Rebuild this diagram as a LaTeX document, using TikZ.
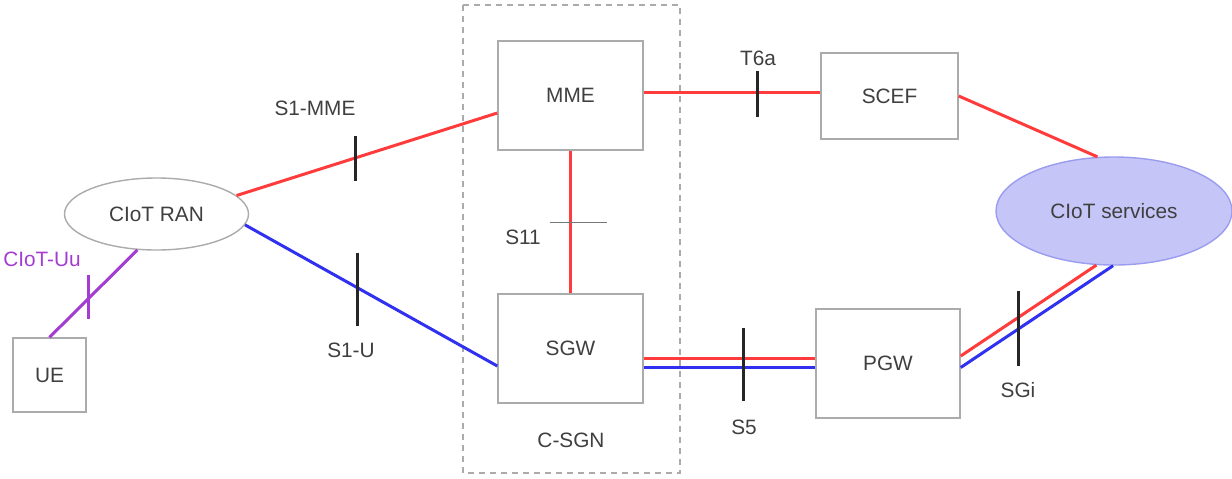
\documentclass[tikz,border=0pt]{standalone}
\usepackage{fontspec}
\setmainfont{Liberation Sans}
\usetikzlibrary{calc, shapes.geometric}
\definecolor{lnred}{HTML}{FF3B3B}
\definecolor{lnblue}{HTML}{3030F0}
\definecolor{lnpurple}{HTML}{A23CD2}
\definecolor{boxgray}{HTML}{ABABAB}
\definecolor{txtgray}{HTML}{3F3F3F}
\definecolor{svcfill}{HTML}{C5C6F7}
\definecolor{svcdraw}{HTML}{9A9CF0}

\begin{document}
\begin{tikzpicture}[x=0.5pt, y=-0.5pt,
  every node/.style={font=\fontsize{10.4}{12}\selectfont, text=txtgray},
  entity/.style={draw=boxgray, line width=0.7pt, fill=white,
                 minimum width=72.5pt, minimum height=54.5pt},
  cloud/.style={ellipse, draw=boxgray, line width=0.7pt, fill=white, inner sep=0pt},
  redln/.style={lnred, line width=1.5pt},
  blueln/.style={lnblue, line width=1.5pt},
  refpt/.style={draw=black!85, line width=1.5pt},
  lbl/.style={inner sep=1pt},
]
  \useasboundingbox (0,0) rectangle (1232,478);

  % C-SGN frame
  \draw[boxgray, line width=0.7pt, dash pattern=on 3pt off 2.5pt] (463,5) rectangle (680,473);
  \node[lbl] (csgn) at (571,440) {C-SGN};

  % network elements
  \node[entity, minimum width=36.5pt, minimum height=37pt] (ue) at (49.5,375) {UE};
  \node[cloud, minimum width=92pt, minimum height=36pt] (ran) at (156.5,214) {CIoT RAN};
  \node[entity] (mme) at (570.5,95.5) {MME};
  \node[entity] (sgw) at (570.5,348.5) {SGW};
  \node[entity, minimum width=68.5pt, minimum height=43pt] (scef) at (889.5,96) {SCEF};
  \node[entity, minimum width=72pt] (pgw) at (888,363.5) {PGW};
  \node[ellipse, draw=svcdraw, fill=svcfill, line width=0.7pt, inner sep=0pt,
        minimum width=118pt, minimum height=54pt] (svc) at (1114,211) {CIoT services};

  % interfaces
  \draw[lnpurple, line width=1.5pt] (ue.north) -- coordinate[pos=0.444] (tuu) (ran.-118);
  \draw[redln] (ran.13) -- coordinate[pos=0.455] (tmme) ($(mme.west)+(0,17.5)$);
  \draw[blueln] (ran.-7.5) -- coordinate[pos=0.444] (tu) ($(sgw.west)+(0,17.5)$);
  \draw[redln] (mme.south) -- coordinate[pos=0.5] (ts11) (sgw.north);
  \draw[redln] ($(mme.east)+(0,-3.5)$) -- coordinate[pos=0.646] (tt6a) ($(scef.west)+(0,-4)$);
  \draw[redln] (scef.east) -- (svc.107);
  \draw[redln] ($(sgw.east)+(0,9.5)$) -- coordinate[pos=0.58] (ts5) ($(pgw.west)+(0,-5.5)$);
  \draw[blueln] ($(sgw.east)+(0,18.5)$) -- ($(pgw.west)+(0,3.5)$);
  \draw[redln] ($(pgw.east)+(0,-7.5)$) -- coordinate[pos=0.423] (tsgi) (svc.-108);
  \draw[blueln] ($(pgw.east)+(0,4)$) -- (svc.-91);

  % reference points
  \draw[lnpurple, line width=1.5pt] ($(tuu)+(0,-24)$) -- ($(tuu)+(0,20)$);
  \draw[refpt] ($(tmme)+(0,-22)$) -- ($(tmme)+(0,23)$);
  \draw[refpt] ($(tu)+(0,-35)$) -- ($(tu)+(0,38)$);
  \draw[boxgray!70!black, line width=0.5pt] ($(ts11)+(-21,0)$) -- ($(ts11)+(36,0)$);
  \draw[refpt] ($(tt6a)+(0,-21)$) -- ($(tt6a)+(0,25)$);
  \draw[refpt] ($(ts5)+(0,-30)$) -- ($(ts5)+(0,43)$);
  \draw[refpt] ($(tsgi)+(0,-27)$) -- ($(tsgi)+(0,48)$);

  % labels
  \node[lbl, text=lnpurple] (luu) at (42,259) {CIoT-Uu};
  \node[lbl] (lmme) at (315,108) {S1-MME};
  \node[lbl] (lu) at (351,350) {S1-U};
  \node[lbl] (ls11) at (523,237) {S11};
  \node[lbl] (lt6a) at (758,58) {T6a};
  \node[lbl] (ls5) at (744,427) {S5};
  \node[lbl] (lsgi) at (1018,390) {SGi};
\end{tikzpicture}
\end{document}
